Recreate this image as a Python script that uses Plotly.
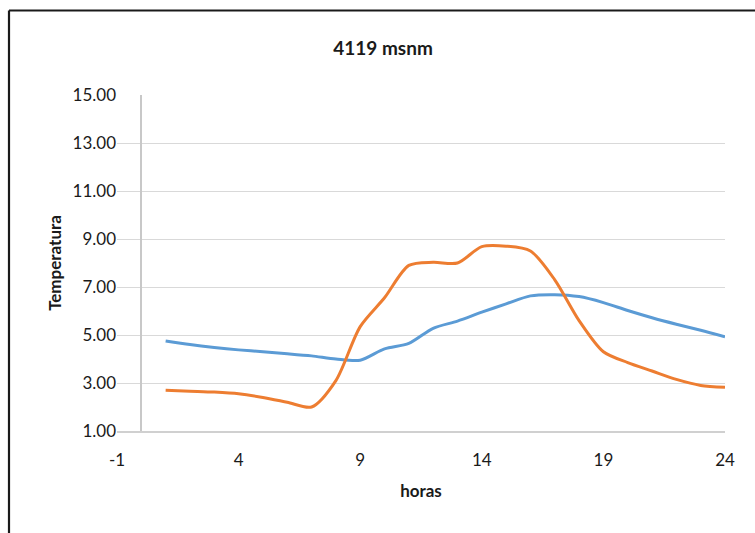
import plotly.graph_objects as go

# Hourly temperature readings at 4119 msnm
horas = list(range(1, 25))
serie_azul = [4.75, 4.60, 4.48, 4.38, 4.30, 4.22, 4.13, 4.00, 3.95, 4.42, 4.65, 5.28,
              5.58, 5.95, 6.30, 6.63, 6.68, 6.60, 6.35, 6.02, 5.72, 5.45, 5.20, 4.93]
serie_naranja = [2.70, 2.66, 2.62, 2.55, 2.40, 2.20, 2.00, 3.10, 5.35, 6.55, 7.90, 8.03,
                 8.00, 8.68, 8.70, 8.50, 7.30, 5.60, 4.30, 3.85, 3.50, 3.15, 2.90, 2.82]

x_ticks = [-1, 4, 9, 14, 19, 24]
y_ticks = [1, 3, 5, 7, 9, 11, 13, 15]

FONT = "Lato, Carlito, Calibri, sans-serif"

fig = go.Figure()
fig.add_trace(go.Scatter(x=horas, y=serie_azul, mode="lines",
                         line=dict(color="#5B9BD5", width=3, shape="spline", smoothing=0.8),
                         showlegend=False))
fig.add_trace(go.Scatter(x=horas, y=serie_naranja, mode="lines",
                         line=dict(color="#ED7D31", width=3, shape="spline", smoothing=0.8),
                         showlegend=False))

L, R, T, B = 117, 30, 95, 102
W, H = 755, 533
pw, ph = W - L - R, H - T - B

def px(xpix):
    return (xpix - L) / pw

def py(ypix):
    return (H - B - ypix) / ph

# outer chart frame (open on right and bottom)
fig.add_shape(type="line", xref="paper", yref="paper", x0=px(9), x1=px(760),
              y0=py(10.5), y1=py(10.5), line=dict(color="#1a1a1a", width=2.2))
fig.add_shape(type="line", xref="paper", yref="paper", x0=px(9), x1=px(9),
              y0=py(10.5), y1=py(540), line=dict(color="#1a1a1a", width=2.2))

fig.update_layout(
    width=W, height=H,
    margin=dict(l=L, r=R, t=T, b=B),
    paper_bgcolor="white", plot_bgcolor="white",
    font=dict(family=FONT, size=17, color="#1a1a1a"),
    title=dict(text="<b>4119 msnm</b>", x=383 / W, xref="container", xanchor="center",
               y=1 - 48 / H, yref="container", yanchor="middle",
               font=dict(family=FONT, size=19, color="#1a1a1a")),
    xaxis=dict(range=[-1, 24], tickvals=x_ticks, ticktext=[str(v) for v in x_ticks],
               showgrid=False, zeroline=True, zerolinecolor="#c8c8c8", zerolinewidth=2,
               showline=True, linecolor="#d0d0d0", linewidth=1.5,
               ticks="outside", ticklen=13, tickcolor="rgba(0,0,0,0)",
               title=dict(text="<b>horas</b>", font=dict(family=FONT, size=17), standoff=16),
               tickfont=dict(family=FONT, size=17)),
    yaxis=dict(range=[1, 15], tickvals=y_ticks, tickformat=".2f",
               showgrid=True, gridcolor="#d9d9d9", gridwidth=1.3,
               zeroline=False, showline=False, ticks="",
               title=dict(text="<b>Temperatura</b>", font=dict(family=FONT, size=17), standoff=6),
               tickfont=dict(family=FONT, size=17)),
)

fig.write_html("out.html")
